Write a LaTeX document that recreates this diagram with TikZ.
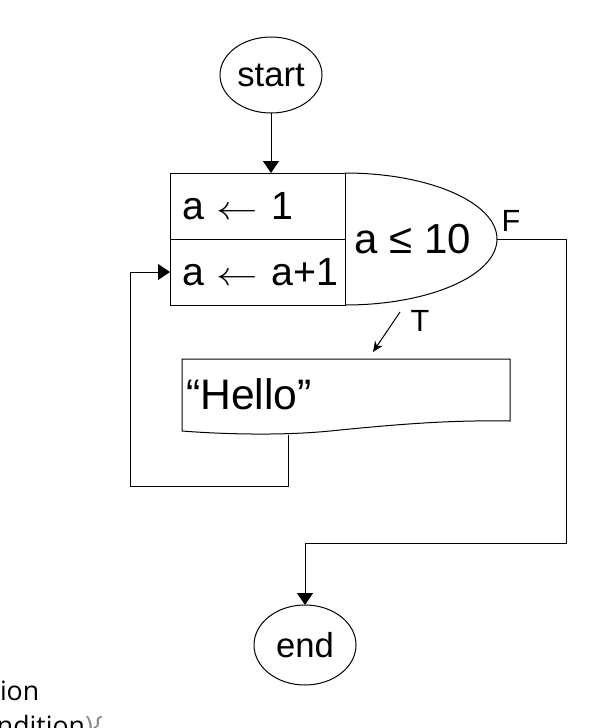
\documentclass[tikz,border=0pt]{standalone}
\usepackage{fontspec}
\usepackage{graphicx}
\setmainfont{Liberation Sans}
\newfontfamily\codefont{Open Sans}
\usetikzlibrary{shapes.geometric, arrows.meta, positioning}

\definecolor{codegray}{gray}{0.55}
\newcommand{\assignto}{\scalebox{1.25}[1]{$\leftarrow$}}

\begin{document}
\begin{tikzpicture}[
  x=0.75pt, y=0.75pt,
  every node/.style={inner sep=0pt, outer sep=0pt},
  line width=0.75pt,
  terminal/.style={ellipse, draw, minimum width=76.5pt, minimum height=57pt,
    font=\fontsize{26}{30}\selectfont},
  cell/.style={rectangle, draw, minimum height=49.5pt, text width=113.25pt,
    inner xsep=9pt, align=left, font=\fontsize{29.5}{33}\selectfont},
  flow/.style={-{Triangle[width=12pt,length=9pt]}},
  label/.style={font=\fontsize{23}{26}\selectfont}]

  \useasboundingbox (0,0) rectangle (610,-728);

  % terminals
  \node[terminal] (start) at (271,-75) {start};
  \node[terminal, minimum height=60pt] (end) at (305,-645) {end};

  % loop header
  \node[cell] (init) at (257.5,-206) {\mbox{a \assignto\ 1}};
  \node[cell, below=0pt of init] (incr) {\mbox{a \assignto\ a+1}};
  \draw (init.north east) arc[start angle=90, end angle=-90,
    x radius=114pt, y radius=49.5pt];
  \coordinate (tip) at ([xshift=114pt]init.south east);
  \node[font=\fontsize{31.5}{35}\selectfont] (cond) at (413,-239) {a ≤ 10};
  \node[label] (flab) at (511,-221) {F};
  \node[label] (tlab) at (420,-321) {T};

  % loop body
  \draw (182,-359) -- (510,-359) -- (510,-421)
    .. controls (450,-420) and (400,-424) .. (330,-431)
    .. controls (280,-436) and (220,-434) .. (182,-431) -- cycle;
  \node[anchor=west, font=\fontsize{32}{36}\selectfont] (hello) at (186,-394) {“Hello”};
  \coordinate (hb) at (288,-435);
  \coordinate (lb) at (130,-486);
  \coordinate (tfrom) at (400,-312);
  \coordinate (tto) at (373,-352);

  % exit path
  \coordinate (fr) at (566,-239);
  \coordinate (fl) at (305,-543);

  \draw[flow] (start.south) -- (start.south |- init.north);
  \draw[-{Stealth[width=7pt,length=8pt]}] (tfrom) -- (tto);
  \draw[flow] (hb) |- (lb) |- (incr.west);
  \draw[flow] (tip) -- (fr) |- (fl) -- (end.north);

  % cut-off text at the lower left
  \begin{scope}
    \clip (0,0) rectangle (610,-728);
    \node[anchor=base west, font=\codefont\fontsize{20}{24}\selectfont] (frag1) at (0,-700) {ion};
    \node[anchor=base west, font=\codefont\fontsize{20}{24}\selectfont] (frag2) at (-3,-735)
      {ndition\textcolor{codegray}{)\{}};
  \end{scope}
\end{tikzpicture}
\end{document}
